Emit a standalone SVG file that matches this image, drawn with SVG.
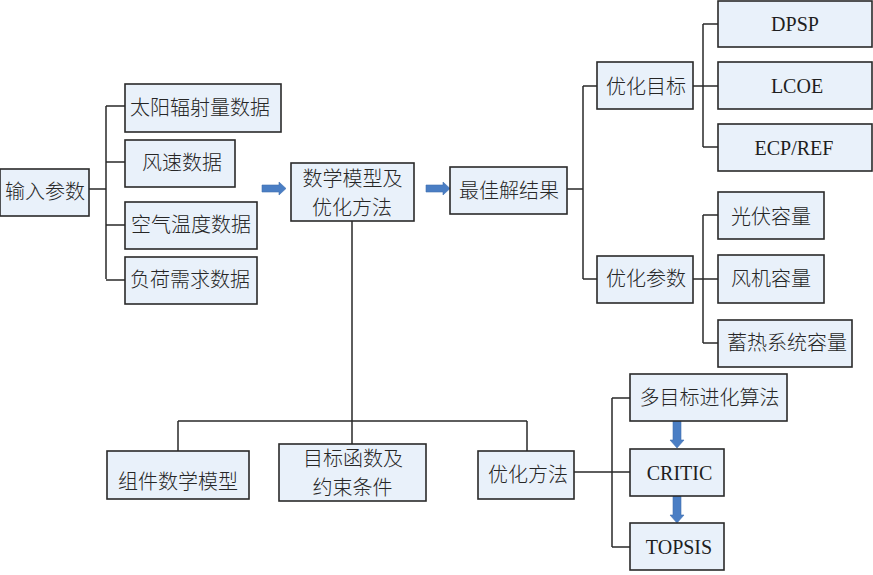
<svg xmlns="http://www.w3.org/2000/svg" width="873" height="575" viewBox="0 0 873 575">
<defs>
<style>
.box{fill:#e9f1fa;stroke:#2a2a2a;stroke-width:1.6}
.cn{font-family:"Noto Sans CJK SC","Noto Sans",sans-serif;font-size:20px;fill:#262626;text-anchor:middle;font-weight:300}
.en{font-family:"Liberation Serif","Times New Roman",serif;font-size:20px;fill:#1e1e1e;text-anchor:middle}
.ln{fill:none;stroke:#2a2a2a;stroke-width:1.5}
.arr{fill:#4a7ec4;stroke:#3f6fb0;stroke-width:0.6}
</style>
</defs>
<rect width="873" height="575" fill="#ffffff"/>
<g id="connectors">
<path class="ln" d="M89 189H106M106 106V279M106 106H125M106 162H125M106 225H125M106 280H125"/>
<path class="ln" d="M567 189H583M583 86V279M583 86H597M583 279H597"/>
<path class="ln" d="M693 86H718M703 24V147M703 24H718M703 147H718"/>
<path class="ln" d="M693 279H718M703 215V343M703 215H718M703 343H718"/>
<path class="ln" d="M352 221V444M178 421H527M178 421V451M527 421V451"/>
<path class="ln" d="M574 472H630M612 398V547M612 398H630M612 547H630"/>
<path class="arr" d="M262 185H279V182L286 188.5L279 195V192H262Z"/>
<path class="arr" d="M426 185H443V182L450 188.5L443 195V192H426Z"/>
<path class="arr" d="M673 421H681V440H684L677 448L670 440H673Z"/>
<path class="arr" d="M673 496H681V515H684L677 523L670 515H673Z"/>
</g>
<g id="n-input"><rect class="box" x="0" y="169" width="89" height="47"/><text class="cn" x="45" y="199">输入参数</text></g>
<g id="n-solar"><rect class="box" x="125" y="84" width="156" height="48"/><text class="cn" x="200" y="115">太阳辐射量数据</text></g>
<g id="n-wind"><rect class="box" x="125" y="140" width="110" height="47"/><text class="cn" x="182" y="170">风速数据</text></g>
<g id="n-temp"><rect class="box" x="125" y="202" width="132" height="47"/><text class="cn" x="191" y="232">空气温度数据</text></g>
<g id="n-load"><rect class="box" x="125" y="257" width="132" height="47"/><text class="cn" x="190" y="287">负荷需求数据</text></g>
<g id="n-model"><rect class="box" x="291" y="163" width="123" height="58"/><text class="cn"><tspan x="352.5" y="186">数学模型及</tspan><tspan x="352" y="215">优化方法</tspan></text></g>
<g id="n-best"><rect class="box" x="450" y="167" width="117" height="47"/><text class="cn" x="509" y="198">最佳解结果</text></g>
<g id="n-obj"><rect class="box" x="597" y="62" width="96" height="47"/><text class="cn" x="646" y="94">优化目标</text></g>
<g id="n-dpsp"><rect class="box" x="718" y="1" width="154" height="46"/><text class="en" x="795" y="31">DPSP</text></g>
<g id="n-lcoe"><rect class="box" x="718" y="62" width="154" height="47"/><text class="en" x="797" y="93">LCOE</text></g>
<g id="n-ecp"><rect class="box" x="718" y="124" width="154" height="47"/><text class="en" x="794" y="155">ECP/REF</text></g>
<g id="n-param"><rect class="box" x="597" y="256" width="96" height="47"/><text class="cn" x="646" y="286">优化参数</text></g>
<g id="n-pv"><rect class="box" x="718" y="192" width="106" height="47"/><text class="cn" x="771" y="224">光伏容量</text></g>
<g id="n-wt"><rect class="box" x="718" y="255" width="106" height="48"/><text class="cn" x="771" y="286">风机容量</text></g>
<g id="n-heat"><rect class="box" x="718" y="320" width="134" height="47"/><text class="cn" x="787" y="350">蓄热系统容量</text></g>
<g id="n-comp"><rect class="box" x="107" y="451" width="142" height="48"/><text class="cn" x="178" y="489">组件数学模型</text></g>
<g id="n-func"><rect class="box" x="279" y="444" width="147" height="57"/><text class="cn"><tspan x="353" y="466">目标函数及</tspan><tspan x="352.5" y="495">约束条件</tspan></text></g>
<g id="n-opt"><rect class="box" x="478" y="451" width="96" height="48"/><text class="cn" x="528" y="482">优化方法</text></g>
<g id="n-moea"><rect class="box" x="630" y="374" width="157" height="47"/><text class="cn" x="709.5" y="405">多目标进化算法</text></g>
<g id="n-critic"><rect class="box" x="630" y="449" width="94" height="47"/><text class="en" x="679.5" y="480">CRITIC</text></g>
<g id="n-topsis"><rect class="box" x="630" y="523" width="94" height="47"/><text class="en" x="679" y="554">TOPSIS</text></g>
</svg>
